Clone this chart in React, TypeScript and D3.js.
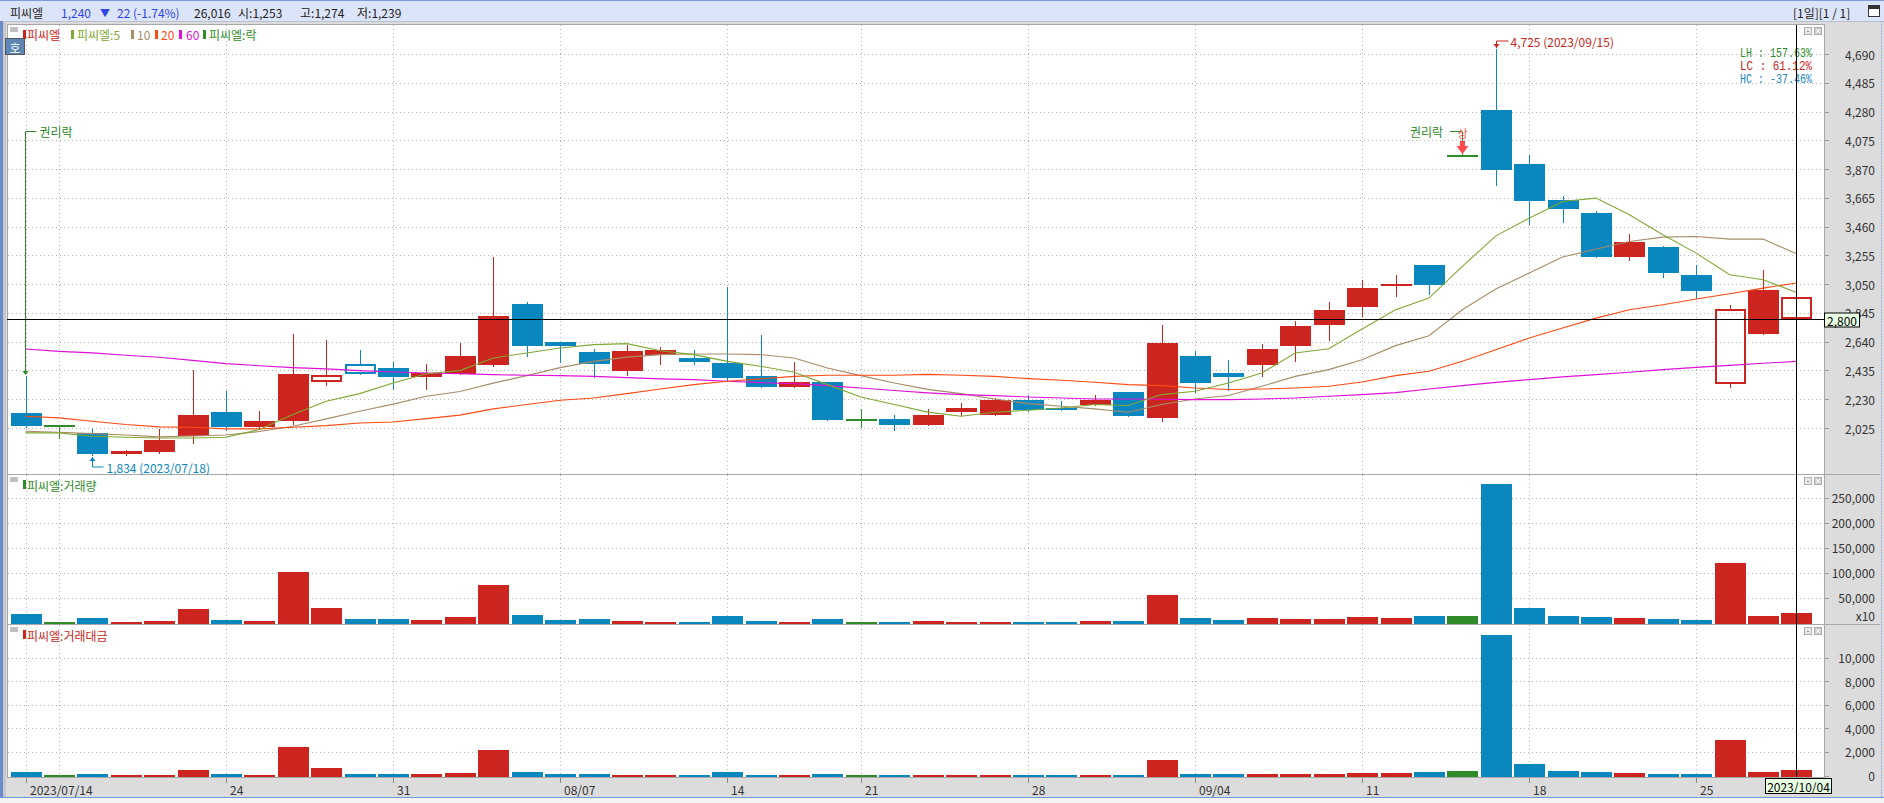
import React from "react";
import * as d3 from "d3";

// trading days shown (2023)
const dates = [
  "07-14", "07-17", "07-18", "07-19", "07-20", "07-21",
  "07-24", "07-25", "07-26", "07-27", "07-28",
  "07-31", "08-01", "08-02", "08-03", "08-04",
  "08-07", "08-08", "08-09", "08-10", "08-11",
  "08-14", "08-16", "08-17", "08-18",
  "08-21", "08-22", "08-23", "08-24", "08-25",
  "08-28", "08-29", "08-30", "08-31", "09-01",
  "09-04", "09-05", "09-06", "09-07", "09-08",
  "09-11", "09-12", "09-13", "09-14", "09-15",
  "09-18", "09-19", "09-20", "09-21", "09-22",
  "09-25", "09-26", "09-27", "10-04",
];

const open = [
  2135, 2038, 1990, 1840, 1853, 1966, 2142, 2030, 2073, 2353,
  2484, 2455, 2386, 2412, 2477, 2911, 2640, 2569, 2434, 2543,
  2526, 2488, 2393, 2315, 2356, 2085, 2092, 2045, 2137, 2121,
  2227, 2170, 2192, 2284, 2099, 2541, 2417, 2472, 2607, 2757,
  2885, 3034, 3188, 3965, 4291, 3907, 3651, 3558, 3247, 3316,
  3117, 2339, 2695, 2800,
];
const high = [
  2393, 2042, 2019, 1871, 2019, 2441, 2287, 2144, 2697, 2655,
  2583, 2493, 2484, 2631, 3241, 2925, 2640, 2588, 2619, 2602,
  2583, 3027, 2690, 2493, 2356, 2163, 2121, 2163, 2206, 2239,
  2263, 2220, 2263, 2284, 2761, 2576, 2512, 2626, 2785, 2925,
  3082, 3117, 3188, 3965, 4725, 3971, 3679, 3570, 3406, 3323,
  3188, 2903, 3152, 3088,
];
const low = [
  2030, 1955, 1834, 1836, 1848, 1919, 2014, 2026, 2054, 2334,
  2408, 2306, 2306, 2412, 2465, 2536, 2493, 2389, 2405, 2484,
  2484, 2360, 2315, 2315, 2085, 2030, 2009, 2045, 2116, 2121,
  2144, 2156, 2192, 2114, 2078, 2280, 2299, 2393, 2500, 2650,
  2821, 2968, 2982, 3965, 3753, 3478, 3492, 3247, 3219, 3098,
  2951, 2315, 2695, 2766,
];
const close = [
  2038, 2038, 1838, 1858, 1936, 2121, 2030, 2078, 2412, 2405,
  2408, 2386, 2417, 2536, 2825, 2612, 2612, 2484, 2576, 2583,
  2493, 2384, 2315, 2356, 2085, 2085, 2045, 2121, 2168, 2227,
  2156, 2156, 2227, 2114, 2633, 2348, 2389, 2590, 2754, 2868,
  3025, 3050, 3046, 3965, 3860, 3646, 3589, 3247, 3352, 3126,
  2998, 2875, 3010, 2955,
];

const ma5 = [
  1990, 1990, 1966, 1959, 1954, 1954, 1959, 2014, 2121, 2216,
  2270, 2346, 2412, 2434, 2524, 2560, 2595, 2619, 2626, 2576,
  2548, 2500, 2465, 2422, 2334, 2246, 2192, 2138, 2109, 2137,
  2151, 2168, 2192, 2185, 2263, 2287, 2346, 2417, 2560, 2590,
  2730, 2868, 2951, 3176, 3394, 3520, 3639, 3663, 3544, 3402,
  3271, 3117, 3081, 2991,
];
const ma10 = [
  2002, 1995, 1985, 1975, 1962, 1968, 1975, 2000, 2038, 2090,
  2144, 2195, 2251, 2285, 2345, 2398, 2455, 2500, 2530, 2548,
  2552, 2552, 2548, 2524, 2453, 2398, 2346, 2300, 2270, 2232,
  2199, 2180, 2161, 2137, 2192, 2232, 2256, 2322, 2393, 2441,
  2512, 2612, 2683, 2868, 3015, 3129, 3243, 3300, 3354, 3385,
  3390, 3371, 3371, 3266,
];
const ma20 = [
  2109, 2097, 2073, 2050, 2033, 2030, 2019, 2019, 2030, 2042,
  2061, 2068, 2092, 2117, 2161, 2192, 2223, 2239, 2270, 2303,
  2334, 2358, 2375, 2393, 2401, 2401, 2401, 2407, 2401, 2393,
  2377, 2365, 2351, 2334, 2327, 2310, 2299, 2303, 2310, 2322,
  2353, 2398, 2429, 2500, 2583, 2666, 2737, 2808, 2868, 2903,
  2944, 2982, 3022, 3058,
];
const ma60 = [
  2588, 2571, 2560, 2543, 2529, 2507, 2484, 2469, 2455, 2446,
  2434, 2424, 2417, 2412, 2405, 2401, 2398, 2393, 2384, 2375,
  2370, 2358, 2348, 2341, 2327, 2310, 2292, 2275, 2263, 2256,
  2246, 2239, 2232, 2232, 2230, 2227, 2227, 2232, 2239, 2251,
  2263, 2277, 2303, 2327, 2350, 2370, 2389, 2405, 2422, 2441,
  2457, 2471, 2486, 2500,
];

// 거래량 (x10 shares)
const volume = [
  16700, 1300, 8700, 1300, 2700, 26700, 4700, 2700, 100700, 28700,
  6700, 6700, 4700, 10700, 74700, 14700, 4700, 6700, 2700, 700,
  700, 12700, 2700, 700, 6700, 700, 700, 2700, 700, 700,
  700, 700, 2700, 2700, 54700, 8700, 4700, 8700, 6700, 6700,
  10700, 8700, 12700, 12700, 276700, 28700, 12700, 10700, 8700, 6700,
  4700, 118700, 12700, 18700,
];
// 거래대금 (백만원)
const tradeValue = [
  310, 28, 85, 28, 28, 479, 85, 28, 2423, 648,
  85, 85, 85, 225, 2169, 310, 85, 85, 28, 28,
  10, 310, 28, 28, 85, 10, 10, 28, 28, 28,
  5, 10, 28, 28, 1324, 169, 85, 169, 169, 169,
  254, 254, 338, 423, 11887, 1014, 423, 338, 254, 169,
  85, 3042, 338, 507,
];

const priceTicks = [2025, 2230, 2435, 2640, 2845, 3050, 3255, 3460, 3665, 3870, 4075, 4280, 4485, 4690];
const volumeTicks = [50000, 100000, 150000, 200000, 250000];
const valueTicks = [0, 2000, 4000, 6000, 8000, 10000];
const xTickDates = ["07-14", "07-24", "07-31", "08-07", "08-14", "08-21", "08-28", "09-04", "09-11", "09-18", "09-25"];
const xTickLabels = ["2023/07/14", "24", "31", "08/07", "14", "21", "28", "09/04", "11", "18", "25"];
const gridDates = ["07-14", "07-17", "07-24", "07-31", "08-07", "08-14", "08-21", "08-28", "09-04", "09-11", "09-18", "09-25"];
const ratioLabels = ["LH : 157.63%", "LC :  61.12%", "HC : -37.46%"];

const F = "'Noto Sans CJK KR', 'Noto Sans', sans-serif";
const MONO = "'Liberation Mono', 'DejaVu Sans Mono', monospace";
const RED = "#cc2520";
const BLUE = "#0a87bf";
const GREEN = "#2f8a2a";
const GRID = "#b4b4b4";

const PL = 7;
const PR = 1824;
const PRICE_TOP = 24;
const PRICE_BOT = 474;
const VOL_BOT = 624;
const VAL_BOT = 777;

export default function App() {
  const x = d3.scalePoint<string>().domain(dates).range([8.8, 1813.2]).padding(0.5);
  const bw = Math.round(x.step() * 0.93);
  const y = d3.scaleLinear().domain([2025, 4690]).range([428, 54]);
  const yv = d3.scaleLinear().domain([0, 250000]).range([622.5, 497.5]);
  const ya = d3.scaleLinear().domain([0, 10000]).range([775.5, 657.5]);
  const fmt = d3.format(",");

  const cx = (i: number) => Math.round(x(dates[i]) as number);
  const colorOf = (i: number) => (close[i] > open[i] ? RED : close[i] < open[i] ? BLUE : GREEN);
  const hollow = (i: number) => {
    if (i === 0) return false;
    if (close[i] > open[i]) return close[i] < close[i - 1];
    if (close[i] < open[i]) return close[i] > close[i - 1];
    return false;
  };

  const maLine = d3
    .line<number>()
    .x((_, i) => (x(dates[i]) as number))
    .y((v) => y(v));

  const mas = [
    { data: ma10, color: "#a88c68" },
    { data: ma60, color: "#e010d8" },
    { data: ma20, color: "#ff4a12" },
    { data: ma5, color: "#80a832" },
  ];

  const last = dates.length - 1;
  const crossX = cx(last) + 0.5;
  const crossY = Math.round(y(2800)) + 0.5;

  const vGrid = (top: number, bot: number) =>
    gridDates.map((d) => (
      <line key={d + top} x1={Math.round(x(d) as number) + 0.5} x2={Math.round(x(d) as number) + 0.5} y1={top} y2={bot}
        stroke={GRID} strokeDasharray="1 3" />
    ));

  const panelIcons = (top: number) => (
    <g>
      <rect x={1804.5} y={top + 3.5} width={7} height={7} fill="#e8e8e8" stroke="#b0b0b0" />
      <rect x={1814.5} y={top + 3.5} width={7} height={7} fill="#d0d0d0" stroke="#b0b0b0" />
      <line x1={1807} x2={1809} y1={top + 7.5} y2={top + 7.5} stroke="#909090" />
      <path d={`M1816 ${top + 5} L1820 ${top + 9} M1820 ${top + 5} L1816 ${top + 9}`} stroke="#fff" />
    </g>
  );

  return (
    <div style={{ position: "fixed", left: 0, top: 0 }}>
      <svg width={1884} height={803} style={{ display: "block", fontFamily: F }}>
        <rect x={0} y={0} width={1884} height={803} fill="#dcdcdc" />
        {/* header */}
        <rect x={0} y={0} width={1884} height={21} fill="#dce4fa" />
        <line x1={0} x2={1884} y1={0.5} y2={0.5} stroke="#7f9cd6" />
        <line x1={0} x2={1884} y1={21.5} y2={21.5} stroke="#b8bfd0" />
        <g fontSize={12} dominantBaseline="central">
          <text x={10} y={12} fill="#222">피씨엘</text>
          <text x={61} y={12} fill="#2f44e8">1,240</text>
          <text x={100} y={12} fill="#2f44e8" fontSize={10}>▼</text>
          <text x={117} y={12} fill="#2f44e8">22 (-1.74%)</text>
          <text x={194} y={12} fill="#222">26,016</text>
          <text x={238} y={12} fill="#222">시:1,253</text>
          <text x={300} y={12} fill="#222">고:1,274</text>
          <text x={357} y={12} fill="#222">저:1,239</text>
          <text x={1793} y={12} fill="#222">[1일][1 / 1]</text>
        </g>
        <rect x={1868.5} y={5.5} width={11} height={11} fill="#fff" stroke="#333" />
        <rect x={1869} y={6} width={10} height={3} fill="#333" />

        {/* window edges */}
        <rect x={0} y={21} width={3} height={782} fill="#6a8ccc" />
        <rect x={3} y={21} width={3} height={782} fill="#c8c8c8" />
        <line x1={1881.5} x2={1881.5} y1={21} y2={797} stroke="#9cb6e4" strokeDasharray="2 1" />

        {/* panels */}
        <rect x={PL + 0.5} y={PRICE_TOP + 0.5} width={PR - PL} height={PRICE_BOT - PRICE_TOP} fill="#fff" stroke="#a8a8a8" />
        <rect x={PL + 0.5} y={PRICE_BOT + 0.5} width={PR - PL} height={VOL_BOT - PRICE_BOT} fill="#fff" stroke="#a8a8a8" />
        <rect x={PL + 0.5} y={VOL_BOT + 0.5} width={PR - PL} height={VAL_BOT - VOL_BOT} fill="#fff" stroke="#a8a8a8" />
        <line x1={PR} x2={1880} y1={PRICE_BOT + 0.5} y2={PRICE_BOT + 0.5} stroke="#a8a8a8" />
        <line x1={PR} x2={1880} y1={VOL_BOT + 0.5} y2={VOL_BOT + 0.5} stroke="#a8a8a8" />

        {/* grids */}
        <g shapeRendering="crispEdges">
          {vGrid(PRICE_TOP + 1, PRICE_BOT)}
          {vGrid(PRICE_BOT + 1, VOL_BOT)}
          {vGrid(VOL_BOT + 1, VAL_BOT)}
          {priceTicks.map((t) => (
            <line key={t} x1={PL + 1} x2={PR} y1={Math.round(y(t)) + 0.5} y2={Math.round(y(t)) + 0.5} stroke={GRID} strokeDasharray="1 3" />
          ))}
          {volumeTicks.map((t) => (
            <line key={t} x1={PL + 1} x2={PR} y1={Math.round(yv(t)) + 0.5} y2={Math.round(yv(t)) + 0.5} stroke={GRID} strokeDasharray="1 3" />
          ))}
          {valueTicks.filter((t) => t > 0).map((t) => (
            <line key={t} x1={PL + 1} x2={PR} y1={Math.round(ya(t)) + 0.5} y2={Math.round(ya(t)) + 0.5} stroke={GRID} strokeDasharray="1 3" />
          ))}
        </g>

        {/* candles */}
        <g shapeRendering="crispEdges">
          {dates.map((d, i) => {
            const c = colorOf(i);
            const xc = cx(i) + 0.5;
            const x0 = cx(i) - Math.floor(bw / 2);
            const yTop = Math.round(y(Math.max(open[i], close[i])));
            const yBot = Math.round(y(Math.min(open[i], close[i])));
            const yH = Math.round(y(high[i]));
            const yL = Math.round(y(low[i]));
            if (open[i] === close[i]) {
              return (
                <g key={d}>
                  <line x1={xc} x2={xc} y1={yH} y2={yL + 1} stroke={c} strokeWidth={1.5} />
                  <rect x={x0} y={yTop - 1} width={bw} height={2} fill={c} />
                </g>
              );
            }
            if (hollow(i)) {
              return (
                <g key={d}>
                  <line x1={xc} x2={xc} y1={yH} y2={yTop} stroke={c} strokeWidth={1.5} />
                  <line x1={xc} x2={xc} y1={yBot} y2={yL + 1} stroke={c} strokeWidth={1.5} />
                  <rect x={x0 + 1} y={yTop + 1} width={bw - 2} height={Math.max(yBot - yTop - 2, 1)} fill="none" stroke={c} strokeWidth={2} />
                </g>
              );
            }
            return (
              <g key={d}>
                <line x1={xc} x2={xc} y1={yH} y2={yL + 1} stroke={c} strokeWidth={1.5} />
                <rect x={x0} y={yTop} width={bw} height={Math.max(yBot - yTop, 2)} fill={c} />
              </g>
            );
          })}
        </g>

        {/* moving averages */}
        <g fill="none" strokeWidth={1.1}>
          {mas.map((m) => (
            <path key={m.color} d={maLine(m.data) ?? undefined} stroke={m.color} />
          ))}
        </g>

        {/* volume and trade value */}
        <g shapeRendering="crispEdges">
          {dates.map((d, i) => {
            const x0 = cx(i) - Math.floor(bw / 2);
            const top = Math.round(yv(volume[i]));
            return <rect key={d} x={x0} y={top} width={bw} height={Math.max(624 - top, 1)} fill={colorOf(i)} />;
          })}
          {dates.map((d, i) => {
            const x0 = cx(i) - Math.floor(bw / 2);
            const top = Math.round(ya(tradeValue[i]));
            return <rect key={d} x={x0} y={top} width={bw} height={Math.max(777 - top, 1)} fill={colorOf(i)} />;
          })}
        </g>

        {/* legends */}
        <rect x={10} y={27} width={8} height={5} fill="#c0c0c0" />
        <g fontSize={12} dominantBaseline="central">
          <rect x={23} y={30} width={3} height={9} fill={RED} />
          <text x={27} y={34.5} fill={RED}>피씨엘</text>
          <rect x={71} y={30} width={3} height={9} fill="#80a832" />
          <text x={77} y={34.5} fill="#80a832">피씨엘:5</text>
          <rect x={131} y={30} width={3} height={9} fill="#a88c68" />
          <text x={137} y={34.5} fill="#a88c68">10</text>
          <rect x={155} y={30} width={3} height={9} fill="#ff4a12" />
          <text x={161} y={34.5} fill="#ff4a12">20</text>
          <rect x={179} y={30} width={3} height={9} fill="#e010d8" />
          <text x={186} y={34.5} fill="#e010d8">60</text>
          <rect x={203} y={30} width={3} height={9} fill={GREEN} />
          <text x={209} y={34.5} fill={GREEN}>피씨엘:락</text>
        </g>
        <rect x={5.5} y={38.5} width={19} height={16} fill="#5e86b4" stroke="#555" />
        <text x={15} y={47} fontSize={12} fill="#fff" textAnchor="middle" dominantBaseline="central">호</text>

        <rect x={10} y={477} width={8} height={5} fill="#c0c0c0" />
        <rect x={23} y={480} width={3} height={9} fill={GREEN} />
        <text x={27} y={485} fontSize={12} fill={GREEN} dominantBaseline="central">피씨엘:거래량</text>
        <rect x={10} y={627} width={8} height={5} fill="#c0c0c0" />
        <rect x={23} y={630} width={3} height={9} fill={RED} />
        <text x={27} y={635} fontSize={12} fill={RED} dominantBaseline="central">피씨엘:거래대금</text>

        {panelIcons(PRICE_TOP)}
        {panelIcons(PRICE_BOT)}
        {panelIcons(VOL_BOT)}

        {/* LH / LC / HC */}
        <g fontSize={12} fontFamily={MONO} dominantBaseline="central" style={{ whiteSpace: "pre" }}>
          {ratioLabels.map((t, i) => (
            <text key={t} x={1740} y={54 + i * 13} fill={[GREEN, RED, "#1a86c0"][i]} textLength={72} lengthAdjust="spacingAndGlyphs">{t}</text>
          ))}
        </g>

        {/* annotations */}
        {(() => {
          const hx = cx(44) + 0.5;
          const hy = Math.round(y(high[44]));
          return (
            <g>
              <path d={`M${hx} ${hy - 1} L${hx} 41 L${hx + 12} 41`} fill="none" stroke={RED} />
              <path d={`M${hx - 3} ${hy - 5} L${hx + 3} ${hy - 5} L${hx} ${hy - 1} Z`} fill={RED} />
              <text x={hx + 14} y={41} fontSize={12} fill={RED} dominantBaseline="central">4,725 (2023/09/15)</text>
            </g>
          );
        })()}
        {(() => {
          const lx = cx(2) + 0.5;
          const ly = Math.round(y(low[2]));
          return (
            <g>
              <path d={`M${lx} ${ly + 2} L${lx} 467 L${lx + 11} 467`} fill="none" stroke={BLUE} />
              <path d={`M${lx - 3} ${ly + 6} L${lx + 3} ${ly + 6} L${lx} ${ly + 2} Z`} fill={BLUE} />
              <text x={lx + 14} y={467} fontSize={12} fill={BLUE} dominantBaseline="central">1,834 (2023/07/18)</text>
            </g>
          );
        })()}
        {(() => {
          const ax = cx(0) - 0.5;
          const ay = Math.round(y(high[0]));
          return (
            <g>
              <path d={`M${ax} ${ay - 2} L${ax} 131.5 L${ax + 11} 131.5`} fill="none" stroke={GREEN} />
              <path d={`M${ax - 3} ${ay - 5} L${ax + 3} ${ay - 5} L${ax} ${ay - 1} Z`} fill={GREEN} />
              <text x={ax + 14} y={131} fontSize={12} fill={GREEN} dominantBaseline="central">권리락</text>
            </g>
          );
        })()}
        {(() => {
          const ax = cx(43) + 0.5;
          const ay = Math.round(y(close[43]));
          return (
            <g>
              <text x={1410} y={131} fontSize={12} fill={GREEN} dominantBaseline="central">권리락</text>
              <path d={`M1450 131.5 L${ax} 131.5 L${ax} ${ay - 1}`} fill="none" stroke={GREEN} />
              <text x={ax} y={133} fontSize={11} fill="#ff5050" textAnchor="middle" dominantBaseline="central">상</text>
              <rect x={ax - 2.5} y={141} width={5} height={6} fill="#ff4a4a" />
              <path d={`M${ax - 6} 146 L${ax + 6} 146 L${ax} ${ay - 2} Z`} fill="#ff4a4a" />
            </g>
          );
        })()}

        {/* crosshair */}
        <line x1={PL} x2={PR} y1={crossY} y2={crossY} stroke="#000" />
        <line x1={crossX} x2={crossX} y1={PRICE_TOP + 1} y2={VAL_BOT} stroke="#000" />

        {/* right axes */}
        <g fontSize={12} fill="#333" textAnchor="end" dominantBaseline="central">
          {priceTicks.map((t) => (
            <g key={t}>
              <line x1={1825} x2={1829} y1={Math.round(y(t)) + 0.5} y2={Math.round(y(t)) + 0.5} stroke="#999" />
              <text x={1875} y={y(t)}>{fmt(t)}</text>
            </g>
          ))}
          {volumeTicks.map((t) => (
            <g key={t}>
              <line x1={1825} x2={1829} y1={Math.round(yv(t)) + 0.5} y2={Math.round(yv(t)) + 0.5} stroke="#999" />
              <text x={1875} y={yv(t)}>{fmt(t)}</text>
            </g>
          ))}
          <text x={1875} y={615}>x10</text>
          {valueTicks.map((t) => (
            <g key={t}>
              <line x1={1825} x2={1829} y1={Math.round(ya(t)) + 0.5} y2={Math.round(ya(t)) + 0.5} stroke="#999" />
              <text x={1875} y={ya(t)}>{fmt(t)}</text>
            </g>
          ))}
        </g>
        <rect x={1824.5} y={crossY - 6.5} width={35} height={14} fill="#e8ffe4" stroke="#000" />
        <text x={1842} y={crossY + 0.5} fontSize={12} fill="#000" textAnchor="middle" dominantBaseline="central">2,800</text>

        {/* x axis */}
        <g fontSize={12} fill="#333" dominantBaseline="central">
          {xTickDates.map((d, i) => (
            <g key={d}>
              <line x1={cx(dates.indexOf(d)) + 0.5} x2={cx(dates.indexOf(d)) + 0.5} y1={VAL_BOT + 1} y2={VAL_BOT + 6} stroke="#888" />
              <text x={cx(dates.indexOf(d)) + 4} y={789}>{xTickLabels[i]}</text>
            </g>
          ))}
        </g>
        <rect x={1765.5} y={778.5} width={66} height={15} fill="#e8ffe4" stroke="#000" />
        <text x={1798.5} y={786.5} fontSize={12} fill="#000" textAnchor="middle" dominantBaseline="central">2023/10/04</text>

        <rect x={0} y={797} width={1884} height={6} fill="#f4f4f4" />
        <line x1={0} x2={1884} y1={797.5} y2={797.5} stroke="#6a9ae0" />
      </svg>
    </div>
  );
}
